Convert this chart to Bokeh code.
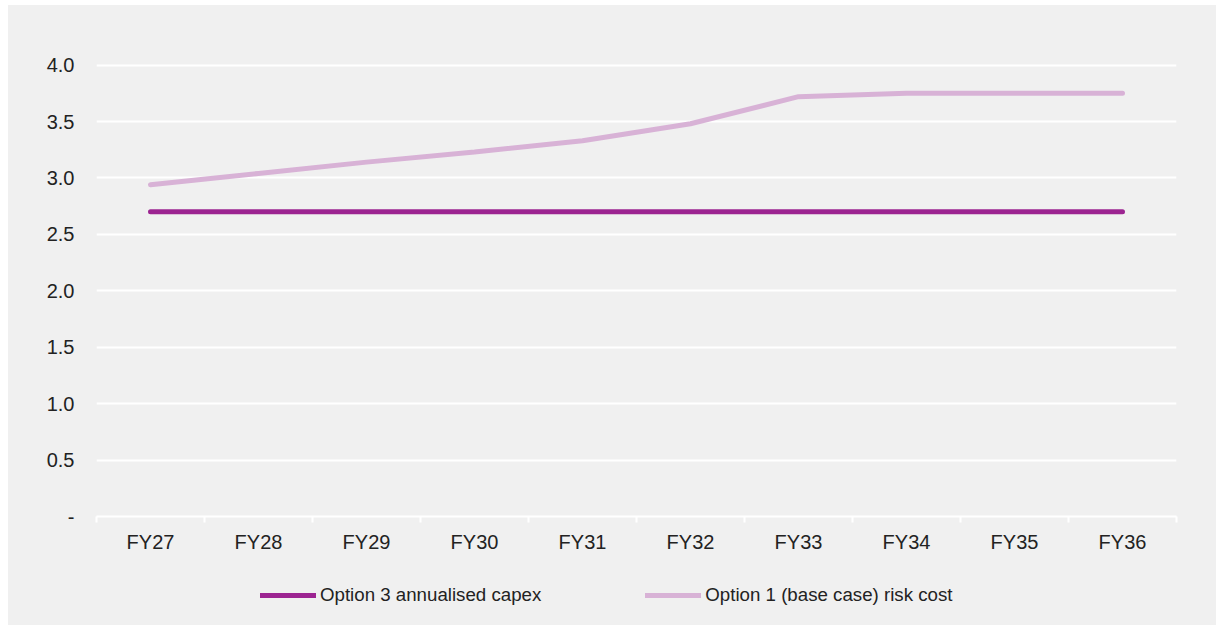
from bokeh.plotting import figure
from bokeh.layouts import column
from bokeh.models import Range1d, FixedTicker, Legend, LegendItem
from bokeh.embed import file_html
from bokeh.resources import INLINE

categories = ["FY27", "FY28", "FY29", "FY30", "FY31", "FY32", "FY33", "FY34", "FY35", "FY36"]
option3_capex = [2.7, 2.7, 2.7, 2.7, 2.7, 2.7, 2.7, 2.7, 2.7, 2.7]
option1_risk = [2.94, 3.04, 3.14, 3.23, 3.33, 3.48, 3.72, 3.75, 3.75, 3.75]
y_ticks = [0, 0.5, 1.0, 1.5, 2.0, 2.5, 3.0, 3.5, 4.0]
y_labels = ["-", "0.5", "1.0", "1.5", "2.0", "2.5", "3.0", "3.5", "4.0"]
series_names = ["Option 3 annualised capex", "Option 1 (base case) risk cost"]
series_colors = ["#9c2491", "#d8b2d6"]

BG = "#f0f0f0"
FONT = "Liberation Sans"

xs = [i + 0.5 for i in range(len(categories))]

p = figure(width=1208, height=560, output_backend="svg", toolbar_location=None,
           x_range=Range1d(0, len(categories)), y_range=Range1d(0, 4.2),
           background_fill_alpha=0, border_fill_color=BG,
           min_border_left=88, min_border_right=40, min_border_top=37, min_border_bottom=49)
p.outline_line_color = None

# grid
p.xgrid.grid_line_color = None
p.ygrid.grid_line_color = "white"
p.ygrid.grid_line_width = 2
p.ygrid.ticker = FixedTicker(ticks=y_ticks)

# y axis
p.yaxis.ticker = FixedTicker(ticks=y_ticks)
p.yaxis.major_label_overrides = {t: l for t, l in zip(y_ticks, y_labels)}
p.yaxis.axis_line_color = None
p.yaxis.major_tick_line_color = None
p.yaxis.minor_tick_line_color = None
p.yaxis.major_label_text_font = FONT
p.yaxis.major_label_text_font_size = "20px"
p.yaxis.major_label_text_color = "#222222"
p.yaxis.major_label_standoff = 16

# x axis
p.xaxis.ticker = FixedTicker(ticks=xs, minor_ticks=list(range(len(categories) + 1)))
p.xaxis.major_label_overrides = {x: c for x, c in zip(xs, categories)}
p.xaxis.axis_line_color = "white"
p.xaxis.axis_line_width = 2
p.xaxis.major_tick_line_color = None
p.xaxis.minor_tick_line_color = "white"
p.xaxis.minor_tick_line_width = 2
p.xaxis.minor_tick_out = 6
p.xaxis.minor_tick_in = 0
p.xaxis.major_label_text_font = FONT
p.xaxis.major_label_text_font_size = "20px"
p.xaxis.major_label_text_color = "#222222"
p.xaxis.major_label_standoff = 8

p.line(xs, option3_capex, line_color=series_colors[0], line_width=5, line_cap="round")
p.line(xs, option1_risk, line_color=series_colors[1], line_width=5, line_cap="round")

# legend strip below the chart
lg = figure(width=1208, height=60, output_backend="svg", toolbar_location=None,
            x_range=Range1d(0, 1), y_range=Range1d(0, 1),
            background_fill_alpha=0, border_fill_color=BG,
            min_border=0, min_border_left=0, min_border_right=0, min_border_top=0, min_border_bottom=0)
lg.axis.visible = False
lg.grid.visible = False
lg.outline_line_color = None
items = []
for name, col in zip(series_names, series_colors):
    # legend-only renderers, placed outside the visible range
    r = lg.line([5, 6], [5, 5], line_color=col, line_width=5, line_cap="round")
    items.append(LegendItem(label=name, renderers=[r]))
legend = Legend(items=items, orientation="horizontal", location=(164, 19),
                background_fill_alpha=0, border_line_color=None,
                label_text_font=FONT, label_text_font_size="18.7px", label_text_color="#222222",
                glyph_width=56, label_standoff=4, spacing=104, padding=0, margin=0)
lg.add_layout(legend, "center")

layout = column(p, lg, spacing=0, margin=(5, 0, 0, 8), styles={"background-color": BG})

with open("out.html", "w") as f:
    f.write(file_html(layout, INLINE))
